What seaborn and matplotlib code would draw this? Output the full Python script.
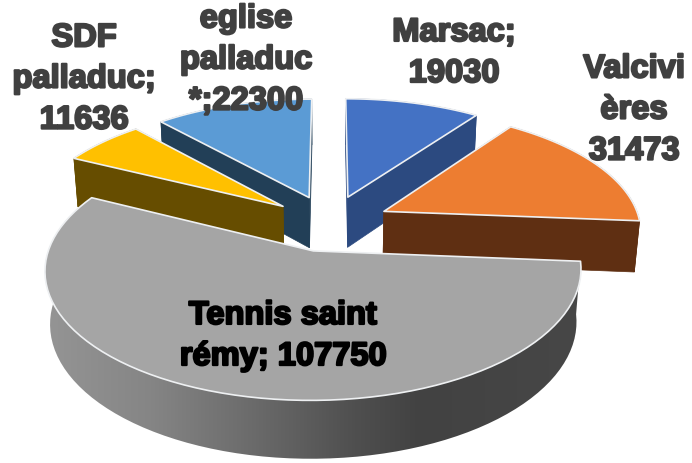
import numpy as np
import matplotlib
matplotlib.use('Agg')
import matplotlib.pyplot as plt
import matplotlib.patheffects as pe
from matplotlib.colors import LinearSegmentedColormap
from matplotlib.patches import Polygon
import seaborn as sns

# data
labels = ['Marsac', 'Valcivières', 'Tennis saint rémy', 'SDF palladuc', 'eglise palladuc *']
values = [19030, 31473, 107750, 11636, 22300]
label_texts = ['Marsac;\n19030', 'Valcivi\nères\n31473', 'Tennis saint\nrémy; 107750',
               'SDF\npalladuc;\n11636', 'eglise\npalladuc\n*;22300']
top_colors = ['#4472c4', '#ed7d31', '#a5a5a5', '#ffc000', '#5b9bd5']
side_colors = ['#2c4a80', '#5f2f12', '#6b6b6b', '#664d00', '#223f57']
label_xy = [(454, 54), (634, 111), (283, 337), (84, 80), (246, 61)]
label_colors = ['#404040', '#404040', '#000000', '#404040', '#404040']

# camera and pie geometry, in pixels and pie radii
CX, CY = 330, 224
SCALE = 256.5
SIN_E, COS_E = 0.465, 0.885
DIST = 6.19
EXPLODE = 0.235
DEPTH = 0.23


def project(x, y, z=0.0):
    """pinhole view of a point on the pie, radius 1, y pointing away"""
    w = 1 + (y * COS_E - z * SIN_E) / DIST
    return CX + SCALE * x / w, CY - SCALE * (y * SIN_E + z * COS_E) / w


def rim(t0, t1, ox, oy, z):
    t = np.linspace(t0, t1, 80)
    return project(ox + np.sin(t), oy + np.cos(t), z)


sns.set_theme(style='white')
plt.rcParams['font.family'] = ['Liberation Sans', 'DejaVu Sans']

fig, ax = plt.subplots(figsize=(6.92, 4.64), dpi=100)
fig.subplots_adjust(0, 0, 1, 1)
ax.set_xlim(0, 692)
ax.set_ylim(464, 0)
ax.axis('off')

edges = np.concatenate([[0], np.cumsum(values)]) / sum(values) * 2 * np.pi
grey_ramp = LinearSegmentedColormap.from_list(
    'wall', [(0, '#959595'), (0.2, '#858585'), (0.38, '#6c6c6c'),
             (0.58, '#4f4f4f'), (0.7, '#424242'), (1, '#474747')])

# back slices first, the big front one last
for order, i in enumerate([0, 4, 3, 1, 2]):
    z_side = 2 + order * 0.2
    z_top = z_side + 0.1
    t0, t1 = edges[i], edges[i + 1]
    mid = (t0 + t1) / 2
    ox, oy = EXPLODE * np.sin(mid), EXPLODE * np.cos(mid)
    tip_top = project(ox, oy)
    tip_low = project(ox, oy, -DEPTH)
    top_x, top_y = rim(t0, t1, ox, oy, 0)
    low_x, low_y = rim(t0, t1, ox, oy, -DEPTH)

    wall = np.column_stack([np.r_[top_x, low_x[::-1]], np.r_[top_y, low_y[::-1]]])
    if i == 2:
        patch = Polygon(wall, closed=True, fc='none', ec='none')
        ax.add_patch(patch)
        im = ax.imshow(np.linspace(0, 1, 256)[None, :], cmap=grey_ramp, aspect='auto',
                       extent=(43, 582, 464, 180), zorder=z_side)
        im.set_clip_path(patch)
    else:
        for j in [0, -1]:
            quad = [tip_top, (top_x[j], top_y[j]), (low_x[j], low_y[j]), tip_low]
            ax.add_patch(Polygon(quad, closed=True, fc=side_colors[i], ec=side_colors[i],
                                 lw=0.5, zorder=z_side))
        ax.add_patch(Polygon(wall, closed=True, fc=side_colors[i], ec=side_colors[i],
                             lw=0.5, zorder=z_side))

    face = np.column_stack([np.r_[tip_top[0], top_x], np.r_[tip_top[1], top_y]])
    ax.add_patch(Polygon(face, closed=True, fc=top_colors[i], ec='#eef0f2', lw=1.2,
                         joinstyle='round', zorder=z_top))

for txt, (x, y), col in zip(label_texts, label_xy, label_colors):
    ax.text(x, y, txt, ha='center', va='center', fontsize=23.5, fontweight='bold',
            color=col, linespacing=1.42, zorder=5,
            path_effects=[pe.withStroke(linewidth=1.6, foreground=col)])

fig.savefig('out.png', dpi=100)
